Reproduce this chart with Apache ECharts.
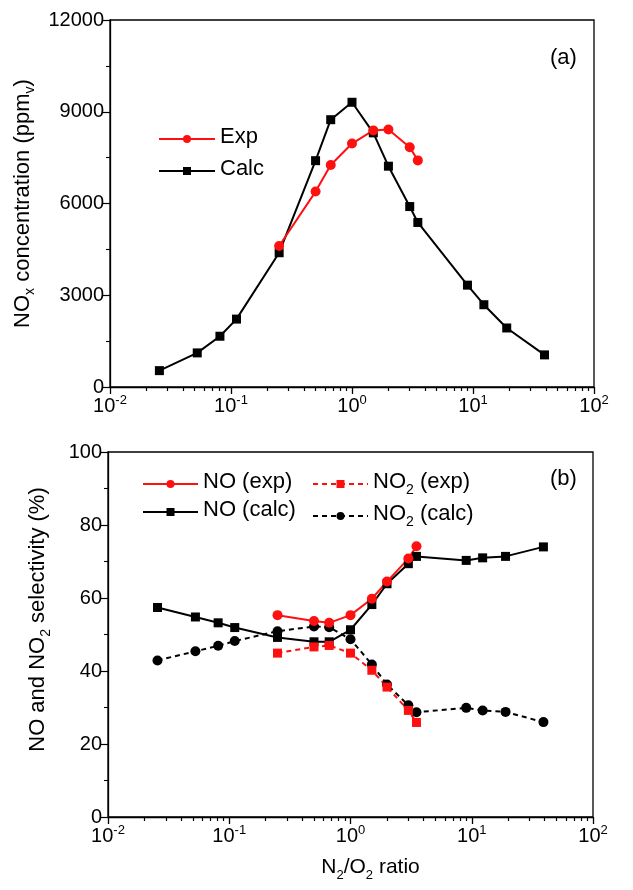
<!DOCTYPE html>
<html><head><meta charset="utf-8">
<script src="https://cdn.jsdelivr.net/npm/echarts@6/dist/echarts.min.js"></script>
<style>html,body{margin:0;padding:0;background:#fff}#c{width:633px;height:890px}</style>
</head><body><div id="c"></div>
<script>
// ---- data ----
const ratioCalc = [0.0256, 0.0526, 0.081, 0.111, 0.25, 0.5, 0.667, 1, 1.5, 2, 3, 3.5, 9, 12.3, 19, 39];
const ratioExp = [0.25, 0.5, 0.667, 1, 1.5, 2, 3, 3.5];
const noxCalc = [535, 1115, 1660, 2220, 4390, 7400, 8740, 9310, 8310, 7220, 5900, 5380, 3330, 2690, 1930, 1050];
const noxExp = [4610, 6390, 7260, 7960, 8390, 8420, 7840, 7410];
const noCalc = [57.4, 54.8, 53.2, 51.9, 49.2, 48.0, 48.0, 51.3, 58.2, 63.9, 69.4, 71.4, 70.3, 71.0, 71.4, 74.0];
const noExp = [55.3, 53.7, 53.2, 55.3, 59.8, 64.5, 70.8, 74.2];
const no2Exp = [44.9, 46.6, 47.0, 44.9, 40.2, 35.6, 29.2, 25.9];
const no2Calc = [42.9, 45.4, 46.9, 48.2, 50.9, 52.2, 52.0, 48.7, 41.8, 36.3, 30.6, 28.7, 29.9, 29.2, 28.8, 26.0];
const yTicksA = [0, 3000, 6000, 9000, 12000];
const yTicksB = [0, 20, 40, 60, 80, 100];
const xDecades = [0.01, 0.1, 1, 10, 100];

const FONT = "'Liberation Sans', Arial, sans-serif";
const RED = '#ff1010';
const BLK = '#000000';
const zip = (xs, ys) => xs.map((x, i) => [x, ys[i]]);

// minor log tick positions, in log10 units (2..9 x each decade)
const minorLog = [];
for (let n = -2; n < 2; n++) for (let k = 2; k <= 9; k++) minorLog.push(n + Math.log10(k));

const supRich = {
  b: {fontSize: 20, fontFamily: FONT, color: BLK, verticalAlign: 'bottom'},
  s: {fontSize: 13, fontFamily: FONT, color: BLK, verticalAlign: 'bottom', padding: [0, 0, 9, 0]}
};
const subRich = (fs) => ({
  b: {fontSize: fs, fontFamily: FONT, color: BLK, verticalAlign: 'bottom', padding: [0, 0, 4, 0]},
  s: {fontSize: Math.round(fs * 0.62), fontFamily: FONT, color: BLK, verticalAlign: 'bottom'}
});

const gridA = {left: 110, top: 20, width: 484, height: 367};
const gridB = {left: 108, top: 452, width: 485, height: 365};

function mainX(gi, withName) {
  const main = {
    gridIndex: gi, type: 'log', logBase: 10,
    min: xDecades[0], max: xDecades[xDecades.length - 1],
    axisLine: {show: true, lineStyle: {color: BLK, width: 1.3}},
    axisTick: {show: true, inside: false, length: 7, lineStyle: {color: BLK, width: 1.3}},
    axisLabel: {
      margin: 7, color: BLK, fontFamily: FONT,
      formatter: v => '{b|10}{s|' + Math.round(Math.log10(v)) + '}',
      rich: supRich
    },
    splitLine: {show: false}
  };
  if (withName) {
    main.name = '{b|N}{s|2}{b|/O}{s|2}{b| ratio}';
    main.nameLocation = 'middle';
    main.nameGap = 40;
    main.nameTextStyle = {rich: subRich(21), padding: [0, 0, 0, 40]};
  }
  return main;
}
// minor ticks: value axis over log10(x) in an overlaid grid with the same rectangle
function minorX(gi) {
  return {
    gridIndex: gi, type: 'value', min: -2, max: 2,
    axisLine: {show: false},
    axisLabel: {show: false},
    axisTick: {show: true, inside: false, length: 4, customValues: minorLog, lineStyle: {color: BLK, width: 1.2}},
    splitLine: {show: false}
  };
}
const hiddenY = gi => ({gridIndex: gi, type: 'value', min: 1, max: 2,
  axisLine: {show: false}, axisTick: {show: false}, axisLabel: {show: false}, splitLine: {show: false}});

function yAxisFor(gi, ticks, name, gap, pad) {
  return {
    gridIndex: gi, type: 'value',
    min: ticks[0], max: ticks[ticks.length - 1], interval: ticks[1] - ticks[0],
    axisLine: {show: true, lineStyle: {color: BLK, width: 1.3}},
    axisTick: {show: true, inside: false, length: 7, lineStyle: {color: BLK, width: 1.2}},
    minorTick: {show: true, splitNumber: 2, length: 4, lineStyle: {color: BLK, width: 1.1}},
    axisLabel: {fontSize: 20, fontFamily: FONT, color: BLK, margin: 6, formatter: v => String(v)},
    splitLine: {show: false},
    name: name, nameLocation: 'middle', nameGap: gap, nameRotate: 90,
    nameTextStyle: {rich: subRich(22), padding: pad}
  };
}

const legendText = {fontSize: 22, fontFamily: FONT, color: BLK, rich: subRich(22)};
const legFmt = name => {
  if (name.indexOf('NO2') === 0) return '{b|NO}{s|2}{b|' + name.slice(3) + '}';
  return '{b|' + name + '}';
};

const option = {
  backgroundColor: '#fff',
  animation: false,
  grid: [
    Object.assign({show: true, borderColor: BLK, borderWidth: 1.3, backgroundColor: 'transparent'}, gridA),
    Object.assign({show: true, borderColor: BLK, borderWidth: 1.3, backgroundColor: 'transparent'}, gridB),
    Object.assign({show: false}, gridA),
    Object.assign({show: false}, gridB)
  ],
  xAxis: [mainX(0, false), mainX(1, true), minorX(2), minorX(3)],
  yAxis: [
    yAxisFor(0, yTicksA, '{b|NO}{s|x}{b| concentration (ppm}{s|v}{b|)}', 71, [0, 0, 0, 0]),
    yAxisFor(1, yTicksB, '{b|NO and NO}{s|2}{b| selectivity (%)}', 55, [0, 0, 0, 30]),
    hiddenY(2), hiddenY(3)
  ],
  legend: [
    {data: ['Exp', 'Calc'], left: 153, top: 121, orient: 'vertical', itemWidth: 56, itemHeight: 10, itemGap: 10,
     textStyle: legendText, formatter: legFmt},
    {data: ['NO (exp)', 'NO (calc)'], left: 137, top: 466, orient: 'vertical', itemWidth: 55, itemHeight: 10, itemGap: 6,
     textStyle: legendText, formatter: legFmt},
    {data: ['NO2 (exp)', 'NO2 (calc)'], left: 307, top: 466, orient: 'vertical', itemWidth: 55, itemHeight: 10, itemGap: 6,
     textStyle: legendText, formatter: legFmt}
  ],
  graphic: [
    {type: 'text', left: 550, top: 47, style: {text: '(a)', fontSize: 22, fontFamily: FONT, fill: BLK}},
    {type: 'text', left: 550, top: 468, style: {text: '(b)', fontSize: 22, fontFamily: FONT, fill: BLK}}
  ],
  series: [
    {name: 'Calc', type: 'line', xAxisIndex: 0, yAxisIndex: 0, data: zip(ratioCalc, noxCalc),
     symbol: 'rect', symbolSize: 9, lineStyle: {color: BLK, width: 2}, itemStyle: {color: BLK}},
    {name: 'Exp', type: 'line', xAxisIndex: 0, yAxisIndex: 0, data: zip(ratioExp, noxExp),
     symbol: 'circle', symbolSize: 10, lineStyle: {color: RED, width: 2}, itemStyle: {color: RED}},
    {name: 'NO (calc)', type: 'line', xAxisIndex: 1, yAxisIndex: 1, data: zip(ratioCalc, noCalc),
     symbol: 'rect', symbolSize: 9, lineStyle: {color: BLK, width: 2}, itemStyle: {color: BLK}},
    {name: 'NO2 (calc)', type: 'line', xAxisIndex: 1, yAxisIndex: 1, data: zip(ratioCalc, no2Calc),
     symbol: 'circle', symbolSize: 10, lineStyle: {color: BLK, width: 2, type: [5, 4]}, itemStyle: {color: BLK}},
    {name: 'NO2 (exp)', type: 'line', xAxisIndex: 1, yAxisIndex: 1, data: zip(ratioExp, no2Exp),
     symbol: 'rect', symbolSize: 9, lineStyle: {color: RED, width: 2, type: [5, 4]}, itemStyle: {color: RED}},
    {name: 'NO (exp)', type: 'line', xAxisIndex: 1, yAxisIndex: 1, data: zip(ratioExp, noExp),
     symbol: 'circle', symbolSize: 10, lineStyle: {color: RED, width: 2}, itemStyle: {color: RED}}
  ]
};
const chart = echarts.init(document.getElementById('c'), null, {renderer: 'canvas'});
chart.setOption(option);
</script></body></html>
